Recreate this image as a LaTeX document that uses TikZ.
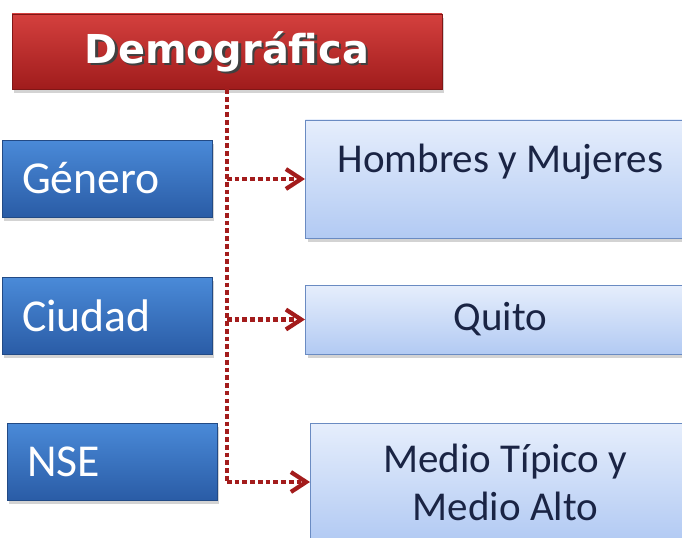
\documentclass[tikz,border=0pt]{standalone}
\usepackage{fontspec}
\setmainfont{Carlito}
\newfontfamily\titlefont{DejaVu Sans}
\usetikzlibrary{arrows.meta,shadows}

\definecolor{titletop}{HTML}{D4403E}
\definecolor{titlebot}{HTML}{A01C1C}
\definecolor{keytop}{HTML}{4A8AD8}
\definecolor{keybot}{HTML}{2A5CA6}
\definecolor{valtop}{HTML}{E6EEFC}
\definecolor{valbot}{HTML}{B2CAF3}
\definecolor{valline}{HTML}{6A8BC2}
\definecolor{valtext}{HTML}{1A2444}
\definecolor{linkred}{HTML}{A31C1C}

\newcommand{\px}{0.03cm}

\tikzset{
  boxshadow/.style={drop shadow={opacity=0.35,shadow xshift=2pt,shadow yshift=-3pt}},
  titlebox/.style={draw=titlebot!80!black, top color=titletop, bottom color=titlebot,
    minimum width=430*\px, minimum height=75*\px, boxshadow},
  titletext/.style={text=white, font=\titlefont\bfseries\fontsize{34}{40}\selectfont},
  keybox/.style={draw=keybot!80!black, top color=keytop, bottom color=keybot,
    minimum width=210*\px, minimum height=77*\px, text width=170*\px,
    inner xsep=20*\px, align=left, text=white, boxshadow,
    font=\fontsize{39}{46}\selectfont},
  valbox/.style={draw=valline, line width=0.8pt, top color=valtop, bottom color=valbot,
    minimum width=390*\px, anchor=west, align=center, text=valtext, boxshadow,
    font=\fontsize{35}{39}\selectfont},
  rail/.style={linkred, line width=3.8pt, dash pattern=on 4pt off 2.6pt},
  link/.style={rail, -{Straight Barb[length=13pt,width=17pt,line width=3.6pt]}}
}

\begin{document}
\begin{tikzpicture}[x=0.03cm, y=-0.03cm]

  \useasboundingbox (0,0) rectangle (682,537);
  \clip (0,0) rectangle (682,537);

  % Title
  \node[titlebox] (title) at (227,51.5) {};
  \node[titletext, text=black!75] (titleshade) at ([xshift=2pt,yshift=-2pt]title.center) {Demográfica};
  \node[titletext] (titlelabel) at (title.center) {Demográfica};

  % Left keys
  \node[keybox] (genero) at (107,178.5) {Género};
  \node[keybox] (ciudad) at (107,316) {Ciudad};
  \node[keybox] (nse) at (112,461.5) {NSE};

  % Right values
  \node[valbox, minimum height=118*\px] (hombres) at (305,179) {Hombres y Mujeres\\[-4pt]\mbox{}};
  \node[valbox, minimum height=69*\px] (quito) at (305,319.5) {\raisebox{-2pt}{Quito}};
  \node[valbox, minimum height=118*\px] (medio) at (310,482) {Medio Típico y\\[2pt]Medio Alto};

  % Links
  \draw[rail] (title.south) -- (title.south |- medio.west);
  \draw[link] (title.south |- medio.west) -- (medio.west);
  \draw[link] (title.south |- hombres.west) -- (hombres.west);
  \draw[link] (title.south |- quito.west) -- (quito.west);

\end{tikzpicture}
\end{document}
